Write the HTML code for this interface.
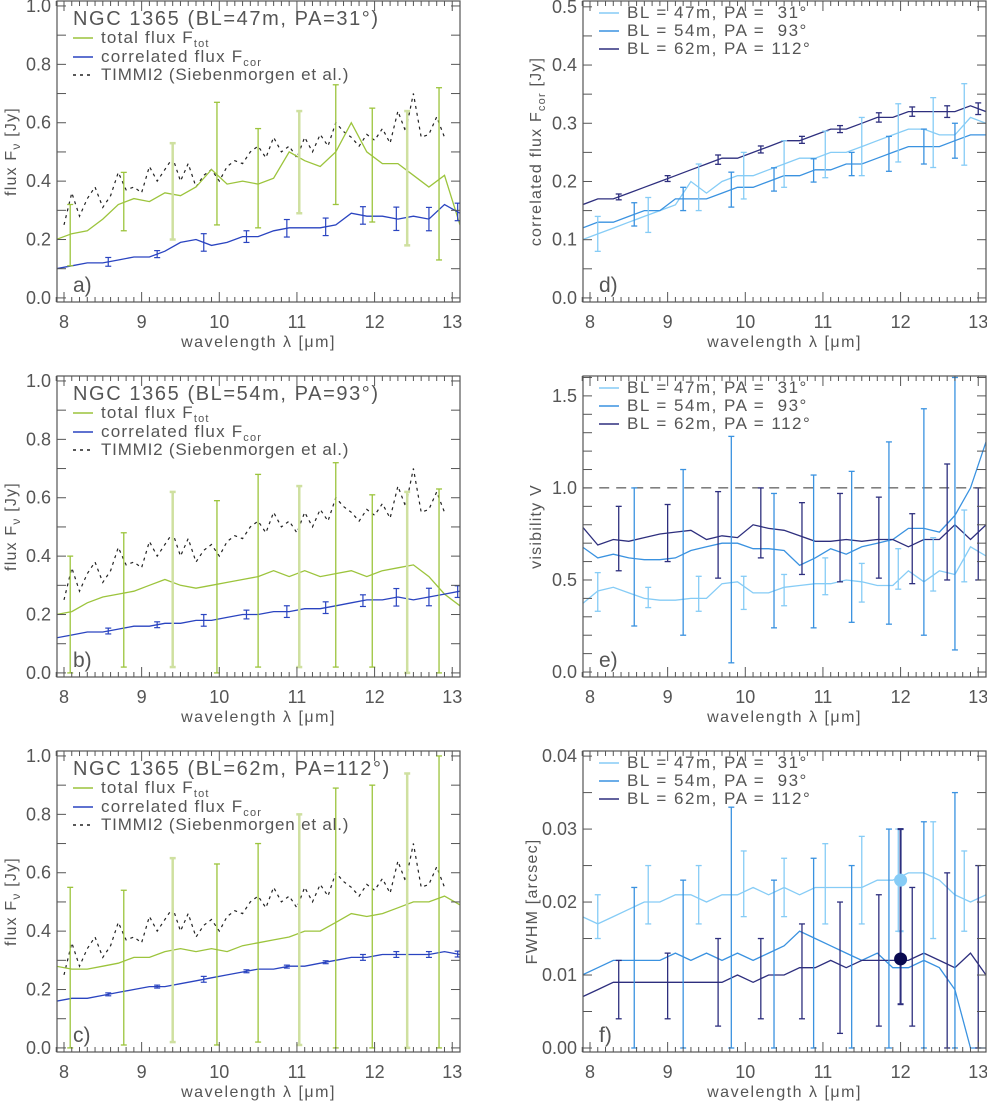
<!DOCTYPE html>
<html><head><meta charset="utf-8"><style>
body{margin:0;background:#fff;}
svg{display:block;font-family:"Liberation Sans","DejaVu Sans",sans-serif;}
text{fill:#555;}
</style></head><body>
<svg id="fig" width="987" height="1101" viewBox="0 0 987 1101"></svg>
<script>
// ---------- data ----------
const wl = [7.9,8.1,8.3,8.5,8.7,8.9,9.1,9.3,9.5,9.7,9.9,10.1,10.3,10.5,10.7,10.9,11.1,11.3,11.5,11.7,11.9,12.1,12.3,12.5,12.7,12.9,13.1];
const timmiWl = [8.0,8.1,8.2,8.3,8.4,8.5,8.6,8.7,8.8,8.9,9.0,9.1,9.2,9.3,9.4,9.5,9.6,9.7,9.8,9.9,10.0,10.1,10.2,10.3,10.4,10.5,10.6,10.7,10.8,10.9,11.0,11.1,11.2,11.3,11.4,11.5,11.6,11.7,11.8,11.9,12.0,12.1,12.2,12.3,12.4,12.5,12.6,12.7,12.8,12.9];
const timmi = [0.25,0.36,0.28,0.34,0.38,0.31,0.35,0.43,0.37,0.38,0.36,0.45,0.40,0.44,0.48,0.40,0.46,0.38,0.42,0.44,0.40,0.45,0.47,0.46,0.50,0.52,0.48,0.55,0.50,0.52,0.48,0.55,0.50,0.56,0.52,0.60,0.57,0.55,0.52,0.56,0.54,0.58,0.53,0.64,0.57,0.70,0.55,0.56,0.62,0.55];
const totA = [0.20,0.22,0.23,0.27,0.32,0.34,0.33,0.36,0.35,0.38,0.44,0.39,0.40,0.39,0.41,0.50,0.47,0.45,0.50,0.60,0.50,0.46,0.46,0.42,0.38,0.42,0.25];
const corA = [0.10,0.11,0.12,0.12,0.13,0.14,0.14,0.16,0.19,0.20,0.18,0.19,0.21,0.21,0.23,0.24,0.24,0.24,0.25,0.29,0.28,0.28,0.27,0.28,0.27,0.32,0.29];
const totB = [0.20,0.21,0.24,0.26,0.27,0.28,0.30,0.32,0.30,0.29,0.30,0.31,0.32,0.33,0.35,0.33,0.35,0.33,0.34,0.35,0.33,0.35,0.36,0.37,0.33,0.27,0.23];
const corB = [0.12,0.13,0.14,0.14,0.15,0.16,0.16,0.17,0.17,0.18,0.18,0.19,0.20,0.20,0.21,0.21,0.22,0.22,0.23,0.24,0.25,0.25,0.26,0.25,0.26,0.27,0.28];
const totC = [0.28,0.27,0.27,0.28,0.29,0.31,0.31,0.33,0.34,0.33,0.34,0.33,0.35,0.36,0.37,0.38,0.40,0.40,0.43,0.46,0.45,0.46,0.48,0.50,0.50,0.52,0.49];
const corC = [0.16,0.17,0.17,0.18,0.19,0.20,0.21,0.21,0.22,0.23,0.24,0.25,0.26,0.27,0.27,0.28,0.28,0.29,0.30,0.31,0.31,0.32,0.32,0.32,0.32,0.33,0.32];
const totErrX = [8.08,8.77,9.4,9.97,10.5,11.03,11.5,11.97,12.42,12.83];
const totErrA = [[0.11,0.32],[0.23,0.43],[0.20,0.53],[0.25,0.67],[0.24,0.58],[0.29,0.64],[0.32,0.73],[0.26,0.65],[0.18,0.64],[0.13,0.72]];
const totErrB = [[0.0,0.40],[0.02,0.48],[0.02,0.62],[0.0,0.59],[0.02,0.68],[0.02,0.64],[0.02,0.72],[0.02,0.61],[0.0,0.62],[0.0,0.63]];
const totErrC = [[0.0,0.55],[0.01,0.54],[0.02,0.65],[0.01,0.63],[0.02,0.70],[0.01,0.80],[0.0,0.89],[0.0,0.90],[0.0,0.94],[0.0,1.0]];
const corErrX = [8.57,9.2,9.8,10.35,10.87,11.37,11.85,12.28,12.7,13.07];
const corErrA = [0.015,0.012,0.03,0.02,0.03,0.03,0.03,0.04,0.04,0.03];
const corErrB = [0.01,0.01,0.02,0.015,0.02,0.02,0.02,0.03,0.03,0.02];
const corErrC = [0.005,0.005,0.01,0.005,0.005,0.005,0.01,0.01,0.01,0.01];
const dLight = [0.10,0.11,0.12,0.13,0.14,0.15,0.16,0.20,0.18,0.20,0.21,0.21,0.22,0.23,0.24,0.24,0.25,0.25,0.26,0.27,0.28,0.29,0.29,0.28,0.28,0.31,0.30];
const dMid = [0.12,0.13,0.13,0.14,0.15,0.15,0.17,0.17,0.17,0.18,0.19,0.19,0.20,0.21,0.21,0.22,0.22,0.23,0.23,0.24,0.25,0.26,0.26,0.26,0.27,0.28,0.28];
const dDark = [0.16,0.17,0.17,0.18,0.19,0.20,0.21,0.22,0.23,0.24,0.24,0.25,0.26,0.27,0.27,0.28,0.29,0.29,0.30,0.31,0.31,0.32,0.32,0.32,0.32,0.33,0.32];
const eLight = [0.37,0.44,0.46,0.43,0.40,0.39,0.39,0.40,0.40,0.48,0.49,0.43,0.43,0.46,0.47,0.48,0.48,0.50,0.49,0.47,0.47,0.55,0.49,0.55,0.53,0.68,0.63];
const eMid = [0.68,0.62,0.64,0.62,0.61,0.61,0.62,0.66,0.68,0.70,0.70,0.67,0.67,0.66,0.58,0.62,0.67,0.64,0.68,0.70,0.72,0.78,0.78,0.76,0.85,1.0,1.25];
const eDark = [0.79,0.69,0.72,0.71,0.73,0.75,0.76,0.77,0.72,0.74,0.73,0.80,0.78,0.77,0.74,0.71,0.71,0.72,0.71,0.72,0.72,0.68,0.72,0.72,0.80,0.72,0.80];
const fLight = [0.018,0.017,0.018,0.019,0.020,0.020,0.021,0.021,0.020,0.021,0.021,0.022,0.021,0.022,0.021,0.022,0.022,0.022,0.022,0.023,0.023,0.024,0.024,0.023,0.021,0.020,0.021];
const fMid = [0.010,0.011,0.012,0.012,0.012,0.012,0.013,0.012,0.013,0.012,0.013,0.012,0.013,0.014,0.016,0.015,0.014,0.013,0.012,0.013,0.011,0.011,0.012,0.011,0.008,0.000,0.000];
const fDark = [0.007,0.008,0.009,0.009,0.009,0.009,0.009,0.009,0.009,0.009,0.010,0.009,0.010,0.010,0.011,0.011,0.012,0.011,0.012,0.012,0.012,0.012,0.013,0.012,0.011,0.013,0.010];
const lightErrX = [8.1,8.75,9.4,9.98,10.5,11.03,11.5,11.97,12.42,12.82];
const midErrX = [8.57,9.2,9.82,10.37,10.88,11.37,11.85,12.3,12.7];
const darkErrX = [8.37,9.0,9.65,10.2,10.73,11.22,11.72,12.15,12.6,13.0];
const dLightErr = [0.03,0.03,0.04,0.04,0.04,0.04,0.05,0.05,0.06,0.07];
const dMidErr = [0.02,0.02,0.03,0.02,0.02,0.02,0.03,0.03,0.03];
const dDarkErr = [0.005,0.005,0.008,0.006,0.006,0.006,0.008,0.008,0.01,0.01];
const eLightErr = [[0.33,0.54],[0.35,0.46],[0.33,0.52],[0.34,0.52],[0.36,0.53],[0.42,0.62],[0.38,0.59],[0.45,0.67],[0.44,0.73],[0.49,0.88]];
const eMidErr = [[0.25,1.0],[0.2,1.1],[0.05,1.28],[0.24,0.97],[0.24,1.07],[0.27,1.09],[0.26,1.25],[0.2,1.43],[0.12,1.6]];
const eDarkErr = [[0.55,0.9],[0.6,0.91],[0.51,0.98],[0.62,1.0],[0.53,0.92],[0.49,0.97],[0.51,0.95],[0.48,0.86],[0.5,1.13],[0.5,1.0]];
const fLightErr = [[0.015,0.021],[0.017,0.025],[0.017,0.025],[0.018,0.027],[0.018,0.026],[0.017,0.028],[0.017,0.029],[0.016,0.030],[0.015,0.031],[0.016,0.027]];
const fMidErr = [[0.0,0.022],[0.0,0.023],[0.0,0.033],[0.0,0.023],[0.0,0.026],[0.0,0.025],[0.0,0.030],[0.0,0.031],[0.0,0.035]];
const fDarkErr = [[0.004,0.012],[0.004,0.013],[0.003,0.015],[0.004,0.015],[0.004,0.017],[0.002,0.020],[0.003,0.021],[0.003,0.022],[0.0,0.024],[0.0,0.025]];
const dotX = [12.0,12.0];
const dotY = [0.023,0.0122];

const C = {green:'#9cc43c', greenPale:'#cfe0a0', cor:'#2a44c0', light:'#86ccf6', mid:'#3a92e0', dark:'#2e2f7e', axis:'#555'};
const NS = 'http://www.w3.org/2000/svg';
const svg = document.getElementById('fig');
function mk(tag, attrs, parent){ const e=document.createElementNS(NS,tag); for(const k in attrs) e.setAttribute(k,attrs[k]); (parent||svg).appendChild(e); return e; }

function panel(cfg){
  const g = mk('g',{});
  
  
  const L=cfg.x0, T=cfg.y0, W=403, H=301;
  const xmin=7.91, xmax=13.1;
  const sx = v => L + (v-xmin)/(xmax-xmin)*W;
  const sy = v => T + H - (v-cfg.ymin)/(cfg.ymax-cfg.ymin)*H;
  cfg.sx=sx; cfg.sy=sy; cfg.g=g;
  const cid='clip'+cfg.id;
  const cp=mk('clipPath',{id:cid},g); mk('rect',{x:L,y:T,width:W,height:H},cp);
  const plot=mk('g',{'clip-path':'url(#'+cid+')'},g);
  cfg.plot=plot;
  const fr=mk('rect',{x:L,y:T,width:W,height:H,fill:'none',stroke:C.axis,'stroke-width':1.2},g);
  
  
  for(let i=79;i<=131;i++){
    const v=i/10, x=sx(v); const major=(i%10===0); const len=major?10:5;
    mk('line',{x1:x,y1:T+H,x2:x,y2:T+H-len,stroke:C.axis,'stroke-width':1},g);
    mk('line',{x1:x,y1:T,x2:x,y2:T+len,stroke:C.axis,'stroke-width':1},g);
    if(major){ const t=mk('text',{x:x,y:T+H+26,'font-size':18,'text-anchor':'middle'},g); t.textContent=String(v);
        }
  }
  const xt=mk('text',{x:L+W/2,y:T+H+45,'font-size':16,'text-anchor':'middle','letter-spacing':1.5},g);
  xt.textContent='wavelength λ [μm]';
   
  const start=Math.ceil(cfg.ymin/cfg.yminor-1e-6);
  for(let k=start;k*cfg.yminor<=cfg.ymax+1e-9;k++){
    const v=k*cfg.yminor, y=sy(v);
    mk('line',{x1:L,y1:y,x2:L+9,y2:y,stroke:C.axis,'stroke-width':1},g);
    mk('line',{x1:L+W,y1:y,x2:L+W-9,y2:y,stroke:C.axis,'stroke-width':1},g);
  }
  cfg.ylabels.forEach(v=>{ const t=mk('text',{x:L-6,y:sy(v)+6,'font-size':18,'text-anchor':'end'},g); t.textContent=v.toFixed(cfg.ydec);
      });
  const yt=mk('text',{x:0,y:0,'font-size':16,'letter-spacing':1.2,'text-anchor':'middle',transform:`translate(${L-cfg.ytOff},${T+H/2}) rotate(-90)`},g);
  yt.innerHTML=cfg.ytitle;
   
  const pl=mk('text',{x:L+16,y:T+H-10,'font-size':21},g); pl.textContent=cfg.label;
   
  return cfg;
}
function line(cfg,xs,ys,color,name,dash,w){
  const d=xs.map((x,i)=>(i?'L':'M')+cfg.sx(x).toFixed(1)+','+cfg.sy(ys[i]).toFixed(1)).join('');
  const p=mk('path',{d:d,fill:'none',stroke:color,'stroke-width':w||1.3},cfg.plot);
  if(dash) p.setAttribute('stroke-dasharray',dash);
   
}
function interp(xs,ys,x){ for(let i=1;i<xs.length;i++){ if(x<=xs[i]){const t=(x-xs[i-1])/(xs[i]-xs[i-1]); return ys[i-1]+t*(ys[i]-ys[i-1]);} } return ys[ys.length-1]; }
function ebar(cfg,x,lo,hi,color,name,w){
  const X=cfg.sx(x), a=cfg.sy(lo), b=cfg.sy(hi);
  const g=mk('g',{stroke:color,'stroke-width':w||1.3},cfg.plot);
   
  mk('line',{x1:X,y1:a,x2:X,y2:b},g);
  mk('line',{x1:X-3,y1:a,x2:X+3,y2:a},g);
  mk('line',{x1:X-3,y1:b,x2:X+3,y2:b},g);
}
function legendEntry(cfg,dy,color,html,dash,name,ls){
  const L=cfg.x0+16, y=cfg.y0+dy;
  const l=mk('line',{x1:L,y1:y,x2:L+20,y2:y,stroke:color,'stroke-width':1.5},cfg.g);
  if(dash) l.setAttribute('stroke-dasharray',dash);
  const t=mk('text',{x:L+28,y:y+5,'font-size':17,'letter-spacing':ls},cfg.g); t.innerHTML=html;
   
}

const left=[
  {id:'a',name:'panel-a',y0:1,label:'a)',bl:'47m, PA=31°',tot:totA,cor:corA,terr:totErrA,cerr:corErrA},
  {id:'b',name:'panel-b',y0:376,label:'b)',bl:'54m, PA=93°',tot:totB,cor:corB,terr:totErrB,cerr:corErrB},
  {id:'c',name:'panel-c',y0:751,label:'c)',bl:'62m, PA=112°',tot:totC,cor:corC,terr:totErrC,cerr:corErrC}
];
left.forEach(p=>{
  const cfg=panel({id:p.id,name:p.name,x0:57,y0:p.y0,ymin:-0.014,ymax:1.017,yminor:0.1,ylabels:[0,0.2,0.4,0.6,0.8,1.0],ydec:1,
    ytitle:'flux F<tspan font-size="12" dy="4">ν</tspan><tspan dy="-4"> [Jy]</tspan>',ytOff:41,label:p.label});
  line(cfg,timmiWl,timmi,'#222','timmi2-spectrum','3,4',1.2);
  line(cfg,wl,p.tot,C.green,'total-flux-line');
  line(cfg,wl,p.cor,C.cor,'correlated-flux-line');
  totErrX.forEach((x,i)=>ebar(cfg,x,p.terr[i][0],p.terr[i][1],i%3===2?C.greenPale:C.green,'total-flux-errorbar',i%3===2?2.5:1.3));
  corErrX.forEach((x,i)=>{const c=interp(wl,p.cor,x); ebar(cfg,x,c-p.cerr[i],c+p.cerr[i],C.cor,'correlated-flux-errorbar',1.2);});
  const t=mk('text',{x:cfg.x0+16,y:cfg.y0+24,'font-size':20,'letter-spacing':1.6},cfg.g); t.textContent='NGC 1365 (BL='+p.bl+')';
   
  legendEntry(cfg,37,C.green,'total flux F<tspan font-size="11" dy="4">tot</tspan>',null,'legend-total-flux',1.2);
  legendEntry(cfg,56,C.cor,'correlated flux F<tspan font-size="11" dy="4">cor</tspan>',null,'legend-correlated-flux',1.2);
  legendEntry(cfg,74,'#222','TIMMI2 (Siebenmorgen et al.)','3,4','legend-timmi2',0.8);
});

function rightLegend(cfg){
  legendEntry(cfg,12,C.light,'BL = 47m, PA =&#160;&#160;31°',null,'legend-bl47',1.5);
  legendEntry(cfg,30,C.mid,'BL = 54m, PA =&#160;&#160;93°',null,'legend-bl54',1.5);
  legendEntry(cfg,48,C.dark,'BL = 62m, PA = 112°',null,'legend-bl62',1.5);
}
const d=panel({id:'d',name:'panel-d',x0:583,y0:1,ymin:-0.007,ymax:0.51,yminor:0.05,ylabels:[0,0.1,0.2,0.3,0.4,0.5],ydec:1,
  ytitle:'correlated flux F<tspan font-size="11" dy="4">cor</tspan><tspan dy="-4"> [Jy]</tspan>',ytOff:42,label:'d)'});
line(d,wl,dLight,C.light,'bl47-corr-flux'); line(d,wl,dMid,C.mid,'bl54-corr-flux'); line(d,wl,dDark,C.dark,'bl62-corr-flux');
lightErrX.forEach((x,i)=>{const c=interp(wl,dLight,x); ebar(d,x,c-dLightErr[i],c+dLightErr[i],C.light,'bl47-errorbar');});
midErrX.forEach((x,i)=>{const c=interp(wl,dMid,x); ebar(d,x,c-dMidErr[i],c+dMidErr[i],C.mid,'bl54-errorbar');});
darkErrX.forEach((x,i)=>{const c=interp(wl,dDark,x); ebar(d,x,c-dDarkErr[i],c+dDarkErr[i],C.dark,'bl62-errorbar');});
rightLegend(d);
const e=panel({id:'e',name:'panel-e',x0:583,y0:376,ymin:-0.027,ymax:1.608,yminor:0.1,ylabels:[0,0.5,1.0,1.5],ydec:1,
  ytitle:'visibility V',ytOff:42,label:'e)'});
line(e,[7.9,13.1],[1,1],'#333','unity-reference-line','10,7',1);
line(e,wl,eLight,C.light,'bl47-visibility'); line(e,wl,eMid,C.mid,'bl54-visibility'); line(e,wl,eDark,C.dark,'bl62-visibility');
lightErrX.forEach((x,i)=>ebar(e,x,eLightErr[i][0],eLightErr[i][1],C.light,'bl47-errorbar'));
midErrX.forEach((x,i)=>ebar(e,x,eMidErr[i][0],eMidErr[i][1],C.mid,'bl54-errorbar'));
darkErrX.forEach((x,i)=>ebar(e,x,eDarkErr[i][0],eDarkErr[i][1],C.dark,'bl62-errorbar'));
rightLegend(e);
const f=panel({id:'f',name:'panel-f',x0:583,y0:751,ymin:-0.00055,ymax:0.0407,yminor:0.005,ylabels:[0,0.01,0.02,0.03,0.04],ydec:2,
  ytitle:'FWHM [arcsec]',ytOff:46,label:'f)'});
line(f,wl,fLight,C.light,'bl47-fwhm'); line(f,wl,fMid,C.mid,'bl54-fwhm'); line(f,wl,fDark,C.dark,'bl62-fwhm');
lightErrX.forEach((x,i)=>ebar(f,x,fLightErr[i][0],fLightErr[i][1],C.light,'bl47-errorbar'));
midErrX.forEach((x,i)=>ebar(f,x,fMidErr[i][0],fMidErr[i][1],C.mid,'bl54-errorbar'));
darkErrX.forEach((x,i)=>ebar(f,x,fDarkErr[i][0],fDarkErr[i][1],C.dark,'bl62-errorbar'));
ebar(f,dotX[0],0.016,0.030,C.light,'mean-fwhm-errorbar-bl47',2);
ebar(f,dotX[1],0.006,0.030,C.dark,'mean-fwhm-errorbar',2);
[C.light,'#0a0a50'].forEach((col,i)=>{
  const c=mk('circle',{cx:f.sx(dotX[i]),cy:f.sy(dotY[i]),r:6.5,fill:col},f.plot);
   
});
rightLegend(f);
</script>
</body></html>
